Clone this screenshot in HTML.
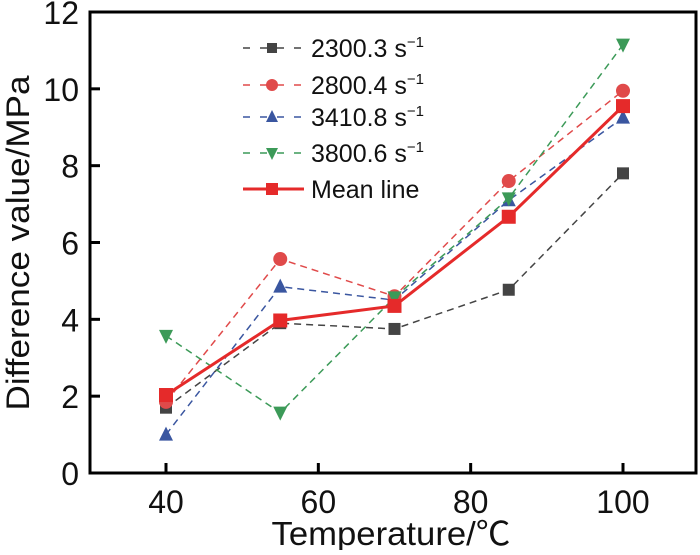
<!DOCTYPE html>
<html><head><meta charset="utf-8"><style>
body{margin:0;background:#fff}
svg text{font-family:"Liberation Sans","Noto Sans CJK SC",sans-serif;fill:#111}
</style></head><body>
<svg id="chart" width="700" height="550" xmlns="http://www.w3.org/2000/svg">
<g id="marks"></g>
</svg>
<script>
const categories=[40,55,70,85,100];
const s2300=[1.7,3.9,3.75,4.77,7.8];
const s2800=[1.85,5.57,4.6,7.6,9.95];
const s3410=[1.0,4.85,4.5,7.1,9.25];
const s3800=[3.57,1.57,4.57,7.15,11.15];
const sMean=[2.03,3.97,4.35,6.67,9.55];
const xTicks=[40,60,80,100];
const yTicks=[0,2,4,6,8,10,12];
const legendLabels=["2300.3 s","2800.4 s","3410.8 s","3800.6 s","Mean line"];

const NS="http://www.w3.org/2000/svg";
const svg=document.getElementById('chart');
const L=90,R=696,T=12,B=473;
const xs=v=>166+(v-40)*(623-166)/60;
const ys=v=>B-v*(B-T)/12;
function mk(tag,attrs,parent){const e=document.createElementNS(NS,tag);for(const k in attrs)e.setAttribute(k,attrs[k]);(parent||svg).appendChild(e);return e;}

const frame=mk('rect',{x:L,y:T,width:R-L,height:B-T,fill:'none',stroke:'#000','stroke-width':3});


xTicks.forEach(t=>{
  const l=mk('line',{x1:xs(t),x2:xs(t),y1:B,y2:B-10,stroke:'#000','stroke-width':3});
  
  
  const tx=mk('text',{x:xs(t),y:513,'font-size':32,'text-anchor':'middle'});tx.textContent=t;
  
  
});
yTicks.forEach(t=>{
  const l=mk('line',{x1:L,x2:L+10,y1:ys(t),y2:ys(t),stroke:'#000','stroke-width':3});
  
  
  const tx=mk('text',{x:79,y:ys(t)+12,'font-size':32,'text-anchor':'end'});tx.textContent=t;
  
  
});
const xt=mk('text',{x:391,y:545,'font-size':33,'text-anchor':'middle',textLength:239,lengthAdjust:'spacingAndGlyphs'});xt.textContent='Temperature/℃';


const yt=mk('text',{x:0,y:0,'font-size':32,'text-anchor':'middle',textLength:335,lengthAdjust:'spacingAndGlyphs',transform:'translate(29,243) rotate(-90)'});yt.textContent='Difference value/MPa';



function marker(type,x,y,c,sz,parent){
  let e;
  if(type==='sq')e=mk('rect',{x:x-sz,y:y-sz,width:2*sz,height:2*sz,fill:c},parent);
  else if(type==='ci')e=mk('circle',{cx:x,cy:y,r:sz+1,fill:c},parent);
  else if(type==='up')e=mk('polygon',{points:`${x},${y-sz-2} ${x-sz-1},${y+sz} ${x+sz+1},${y+sz}`,fill:c},parent);
  else e=mk('polygon',{points:`${x},${y+sz+2} ${x-sz-1},${y-sz} ${x+sz+1},${y-sz}`,fill:c},parent);
  return e;
}
const series=[
 {d:s2300,c:'#444',m:'sq',n:'series-2300'},
 {d:s2800,c:'#e04a4a',m:'ci',n:'series-2800'},
 {d:s3410,c:'#3a56a0',m:'up',n:'series-3410'},
 {d:s3800,c:'#3c9a58',m:'dn',n:'series-3800'},
 {d:sMean,c:'#e52a2a',m:'sq',n:'series-mean',solid:true}
];
series.forEach((s,i)=>{
  const g=mk('g',{},document.getElementById('marks'));
  
  
  const pts=s.d.map((v,j)=>xs(categories[j])+','+ys(v)).join(' ');
  const pl=mk('polyline',{points:pts,fill:'none',stroke:s.c,'stroke-width':s.solid?3:1.5,'stroke-dasharray':s.solid?'':'7,5'},g);
  
  
  s.d.forEach((v,j)=>{
    const m=marker(s.m,xs(categories[j]),ys(v),s.c,s.solid?7:6,g);
    
    
  });
  const ly=[48,85,117,153,189][i];
  const lg=mk('g',{},svg);
  
  
  mk('line',{x1:243,x2:304,y1:ly,y2:ly,stroke:s.c,'stroke-width':s.solid?3:1.5,'stroke-dasharray':s.solid?'':'7,10'},lg);
  marker(s.m,272,ly,s.c,s.solid?6:5,lg);
  const t=mk('text',{x:311,y:ly+9,'font-size':25},lg);
  t.textContent=legendLabels[i];
  if(!s.solid){const sp=mk('tspan',{'font-size':15,dy:-10},t);sp.textContent='−1';}
});
</script>
</body></html>
